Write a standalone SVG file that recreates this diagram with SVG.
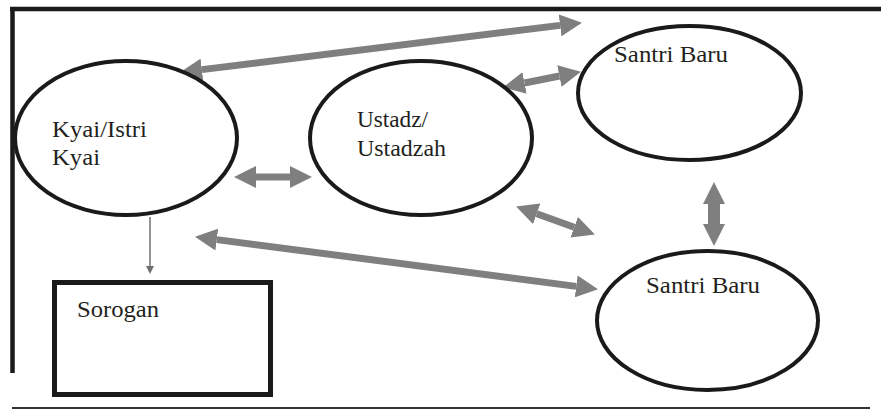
<svg xmlns="http://www.w3.org/2000/svg" width="881" height="416" viewBox="0 0 881 416">
<style>
.frame{stroke:#1a1a1a;stroke-width:4.5;fill:none}
.node{stroke:#1a1a1a;stroke-width:4;fill:#fff}
text{font-family:'Liberation Serif','Times New Roman',Times,'DejaVu Serif',serif;font-size:22.5px;fill:#231f20}
.arr{stroke:#7f7f7f;stroke-width:7;fill:none;marker-start:url(#ah);marker-end:url(#ah)}
</style>
<defs>
<marker id="ah" viewBox="0 -11 22 22" refX="0" refY="0" markerWidth="22" markerHeight="22" markerUnits="userSpaceOnUse" orient="auto-start-reverse">
<path d="M0,-11 L22,0 L0,11 z" fill="#7f7f7f"/>
</marker>
<marker id="sh" viewBox="0 -4 8 8" refX="0" refY="0" markerWidth="8" markerHeight="8" markerUnits="userSpaceOnUse" orient="auto">
<path d="M0,-4 L8,0 L0,4 z" fill="#6f6f6f"/>
</marker>
</defs>
<rect width="881" height="416" fill="#fff"/>
<g id="frame">
<line class="frame" x1="10" y1="9" x2="881" y2="9"/>
<line class="frame" x1="12.5" y1="7" x2="12.5" y2="373"/>
<line x1="12" y1="408" x2="870" y2="408" stroke="#333" stroke-width="2"/>
</g>
<g id="connectors">
<line class="arr" x1="201.9" y1="69.6" x2="560.1" y2="25.4"/>
<line class="arr" x1="256" y1="177" x2="290" y2="177"/>
<line class="arr" x1="524.6" y1="83" x2="559.4" y2="76"/>
<line class="arr" x1="536.8" y1="213.8" x2="574.2" y2="227.2"/>
<line class="arr" x1="714" y1="204" x2="714" y2="224" style="stroke-width:12"/>
<line class="arr" x1="216.8" y1="239.6" x2="576.2" y2="286.4"/>
<line x1="150" y1="217" x2="150" y2="266" stroke="#6f6f6f" stroke-width="1.5" marker-end="url(#sh)"/>
</g>
<g id="kyai">
<ellipse class="node" cx="126" cy="138" rx="111" ry="77"/>
<text x="52" y="137" font-family="Liberation Serif" textLength="95" lengthAdjust="spacingAndGlyphs">Kyai/Istri</text>
<text x="52" y="165" font-family="Liberation Serif" textLength="48" lengthAdjust="spacingAndGlyphs">Kyai</text>
</g>
<g id="ustadz">
<ellipse class="node" cx="421" cy="138" rx="111" ry="77"/>
<text x="357" y="127" font-family="Liberation Serif" textLength="71" lengthAdjust="spacingAndGlyphs">Ustadz/</text>
<text x="357" y="156" font-family="Liberation Serif" textLength="89" lengthAdjust="spacingAndGlyphs">Ustadzah</text>
</g>
<g id="santri-top">
<ellipse class="node" cx="689.5" cy="93" rx="111.5" ry="67"/>
<text x="614" y="62" font-family="Liberation Serif" textLength="114" lengthAdjust="spacingAndGlyphs">Santri Baru</text>
</g>
<g id="santri-bottom">
<ellipse class="node" cx="707.5" cy="320.5" rx="110.5" ry="69.5"/>
<text x="646" y="293" font-family="Liberation Serif" textLength="114" lengthAdjust="spacingAndGlyphs">Santri Baru</text>
</g>
<g id="sorogan">
<rect x="54.5" y="282.5" width="216" height="112" fill="#fff" stroke="#1a1a1a" stroke-width="5"/>
<text x="77" y="317" font-family="Liberation Serif" textLength="82" lengthAdjust="spacingAndGlyphs">Sorogan</text>
</g>
</svg>
